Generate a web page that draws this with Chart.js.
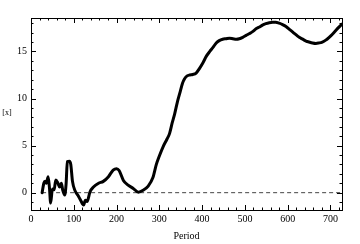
<!DOCTYPE html>
<html>
<head>
<meta charset="utf-8">
<script src="https://cdn.jsdelivr.net/npm/chart.js@4.4.1/dist/chart.umd.min.js"></script>
<style>
  html, body { margin: 0; padding: 0; background: #fff; }
  #wrap { width: 360px; height: 244px; }
</style>
</head>
<body>
<div id="wrap"><canvas id="PeriodChart"></canvas></div>
<script>
const periods = [26, 30, 33, 36, 40, 43, 46, 50, 54, 58, 63, 67, 71, 74, 79, 82, 85, 90, 93, 97,
    103, 110, 116, 123, 127, 131, 138, 146, 158, 169, 181, 192, 200, 206, 216, 227, 239, 251, 262, 274,
    285, 293, 300, 309, 318, 324, 330, 336, 342, 348, 354, 359, 365, 371, 378, 386, 394, 402, 410, 418,
    425, 433, 440, 448, 456, 464, 472, 480, 487, 495, 503, 511, 518, 526, 534, 541, 549, 557, 565, 572,
    580, 588, 596, 604, 612, 620, 627, 635, 643, 650, 658, 666, 673, 681, 689, 697, 704, 712, 718, 727];
const values = [0.0, 1.0, 1.2, 1.0, 1.7, 0.6, -1.1, 0.4, 0.3, 1.35, 1.0, 0.6, 1.0, 0.3, -0.25, 0.9, 3.3, 3.35, 3.0, 1.2,
    0.2, -0.3, -0.8, -1.3, -0.8, -0.95, 0.1, 0.6, 1.0, 1.2, 1.7, 2.4, 2.55, 2.35, 1.3, 0.8, 0.45, 0.05, 0.25, 0.7,
    1.6, 3.0, 3.9, 4.9, 5.7, 6.3, 7.4, 8.4, 9.6, 10.6, 11.6, 12.1, 12.4, 12.5, 12.55, 12.7, 13.2, 13.8, 14.5, 15.0,
    15.4, 15.9, 16.15, 16.3, 16.35, 16.4, 16.35, 16.3, 16.35, 16.5, 16.7, 16.9, 17.1, 17.4, 17.6, 17.8, 17.95, 18.05, 18.1, 18.1,
    18.0, 17.85, 17.65, 17.35, 17.05, 16.75, 16.5, 16.3, 16.1, 16.0, 15.9, 15.85, 15.9, 16.0, 16.2, 16.5, 16.8, 17.2, 17.5, 17.9];
const baselinePeriods = [26, 727];
const baselineValues = [0, 0];
const xTicks = [0, 100, 200, 300, 400, 500, 600, 700];
const yTicks = [0, 5, 10, 15];
const xLabel = 'Period';
const yLabel = '[x]';

const serif = '"Liberation Serif", "DejaVu Serif", serif';

// frame + inward ticks, Mathematica style
const frameTicks = {
    id: 'frameTicks',
    afterDraw(chart) {
        const { ctx, chartArea: a, scales: { x, y } } = chart;
        ctx.save();
        ctx.strokeStyle = '#000';
        ctx.lineWidth = 1;
        ctx.strokeRect(Math.round(a.left) + 0.5, Math.round(a.top) + 0.5,
            Math.round(a.right - a.left), Math.round(a.bottom - a.top));
        ctx.beginPath();
        for (let v = 0; v <= x.max; v += 20) {
            const px = Math.round(x.getPixelForValue(v)) + 0.5;
            const len = v % 100 === 0 ? 5 : 2.5;
            ctx.moveTo(px, a.bottom); ctx.lineTo(px, a.bottom - len);
            ctx.moveTo(px, a.top); ctx.lineTo(px, a.top + len);
        }
        for (let v = Math.ceil(y.min); v <= y.max; v += 1) {
            const py = Math.round(y.getPixelForValue(v)) + 0.5;
            const len = v % 5 === 0 ? 5 : 2.5;
            ctx.moveTo(a.left, py); ctx.lineTo(a.left + len, py);
            ctx.moveTo(a.right, py); ctx.lineTo(a.right - len, py);
        }
        ctx.stroke();
        ctx.fillStyle = '#000';
        ctx.font = '8px ' + serif;
        ctx.textAlign = 'center';
        ctx.textBaseline = 'middle';
        ctx.fillText(yLabel, 7, 113);
        ctx.restore();
    }
};

new Chart(document.getElementById('PeriodChart').getContext('2d'), {
    type: 'line',
    data: {
        datasets: [
            {
                data: periods.map((p, i) => ({ x: p, y: values[i] })),
                borderColor: '#000',
                borderWidth: 3,
                pointRadius: 0,
                cubicInterpolationMode: 'monotone',
                borderJoinStyle: 'round',
                borderCapStyle: 'round'
            },
            {
                data: baselinePeriods.map((p, i) => ({ x: p, y: baselineValues[i] })),
                borderColor: '#444',
                borderWidth: 1,
                borderDash: [4, 3],
                pointRadius: 0
            }
        ]
    },
    options: {
        responsive: true,
        maintainAspectRatio: false,
        animation: false,
        events: [],
        layout: { padding: { top: 18, right: 18, left: 0, bottom: 0 } },
        plugins: { legend: { display: false }, tooltip: { enabled: false } },
        scales: {
            x: {
                type: 'linear',
                min: 0,
                max: 727,
                afterBuildTicks: s => { s.ticks = xTicks.map(v => ({ value: v })); },
                afterFit: s => { s.height = 34; },
                grid: { display: false, drawTicks: false },
                border: { display: false },
                ticks: { color: '#000', font: { family: serif, size: 10 }, padding: 3, maxRotation: 0 },
                title: { display: true, text: xLabel, color: '#000', font: { family: serif, size: 10 }, padding: { top: 0, bottom: 2 } }
            },
            y: {
                min: -1.84,
                max: 18.55,
                afterBuildTicks: s => { s.ticks = yTicks.map(v => ({ value: v })); },
                afterFit: s => { s.width = 31; },
                grid: { display: false, drawTicks: false },
                border: { display: false },
                ticks: { color: '#000', font: { family: serif, size: 10 }, padding: 4 }
            }
        }
    },
    plugins: [frameTicks]
});
</script>
</body>
</html>
